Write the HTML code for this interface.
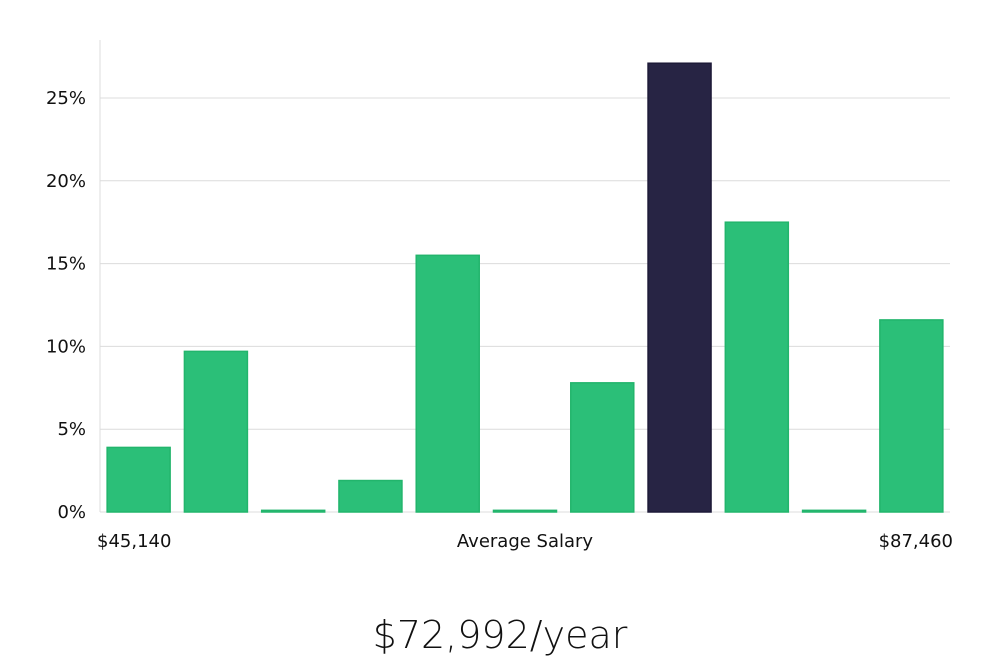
<!DOCTYPE html>
<html><head><meta charset="utf-8"><style>
html,body{margin:0;padding:0;background:#fff;width:1000px;height:660px;overflow:hidden}
svg{display:block}
text{font-family:"DejaVu Sans","Liberation Sans",sans-serif;fill:#111}
</style></head><body>
<svg id="chart" width="1000" height="660" viewBox="0 0 1000 660"></svg>
<script>
const categories = ["b1","b2","b3","b4","b5","b6","b7","b8","b9","b10","b11"];
const values = [3.9, 9.7, 0.1, 1.9, 15.5, 0.1, 7.8, 27.1, 17.5, 0.1, 11.6];
const highlightIndex = 7;
const yTicks = [0, 5, 10, 15, 20, 25];
const yTickLabels = ["0%","5%","10%","15%","20%","25%"];
const xLabels = ["$45,140", "Average Salary", "$87,460"];
const subtitle = "$72,992/year";

const NS = "http://www.w3.org/2000/svg";
const svg = document.getElementById("chart");
const x0 = 100, x1 = 950, yBase = 512, pxPer = 16.56;
const band = (x1 - x0) / categories.length;
const barW = 63;
function yScale(v){ return yBase - v * pxPer; }
function xScale(i){ return x0 + i * band + (band - barW) / 2; }
function mk(tag, attrs){ const e = document.createElementNS(NS, tag); for (const k in attrs) e.setAttribute(k, attrs[k]); svg.appendChild(e); return e; }

yTicks.forEach((t, i) => {
  const g = mk("line", {x1: x0, x2: x1, y1: yScale(t), y2: yScale(t), stroke: "#dcdcdc", "stroke-width": 1});
  
  
  const lb = mk("text", {x: 86, y: yScale(t) + 6, "text-anchor": "end", "font-size": 18});
  lb.textContent = yTickLabels[i];
  
  
});
const ax = mk("line", {x1: x0, x2: x0, y1: 40, y2: yBase, stroke: "#dcdcdc", "stroke-width": 1});



values.forEach((v, i) => {
  const hi = i === highlightIndex;
  const h = Math.max(1, v * pxPer);
  const r = mk("rect", {x: xScale(i), y: yBase - h, width: barW, height: h,
    fill: hi ? "#272444" : "#2bbf78", stroke: hi ? "#1d1a38" : "#22b56c", "stroke-width": 1.5});
  
  
});

const xl = [[97, "start"], [525, "middle"], [953, "end"]];
xLabels.forEach((s, i) => {
  const t = mk("text", {x: xl[i][0], y: 547, "text-anchor": xl[i][1], "font-size": 18});
  t.textContent = s;
  
  
});
const st = mk("text", {x: 500, y: 648, "text-anchor": "middle", "font-size": 38, "font-family": "Liberation Sans Narrow, Liberation Sans, sans-serif", "font-weight": 300});
st.textContent = subtitle;


</script>
</body></html>
